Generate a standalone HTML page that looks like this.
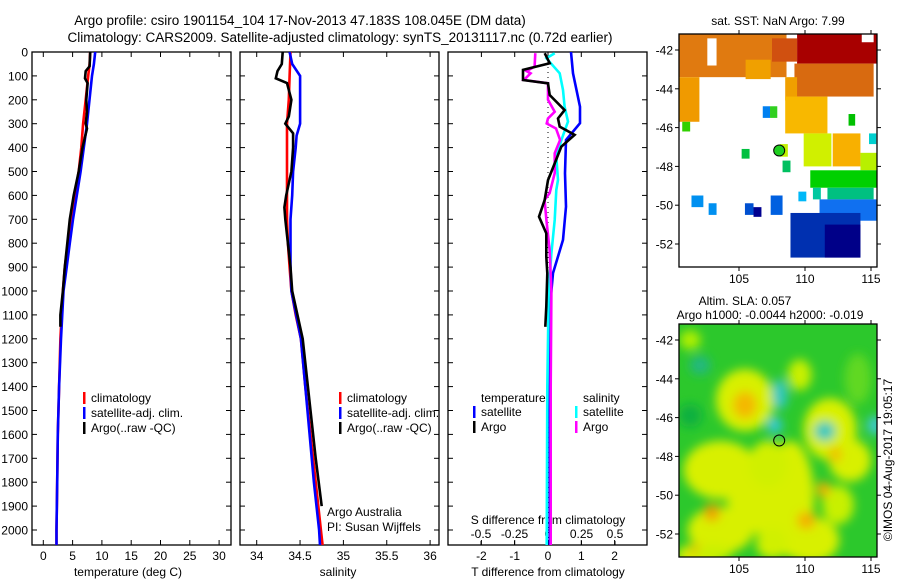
<!DOCTYPE html>
<html><head><meta charset="utf-8"><style>
html,body{margin:0;padding:0;background:#fff}
svg{display:block;font-family:"Liberation Sans",sans-serif}
</style></head><body>
<svg id="c" width="900" height="580" viewBox="0 0 900 580">
<defs>
<clipPath id="cp1"><rect x="32" y="52" width="199" height="493"/></clipPath>
<clipPath id="cp2"><rect x="240" y="52" width="199" height="493"/></clipPath>
<clipPath id="cp3"><rect x="448" y="52" width="199" height="493"/></clipPath>
<clipPath id="cpm1"><rect x="679" y="34" width="198" height="233"/></clipPath>
<clipPath id="cpm2"><rect x="679" y="324" width="198" height="233"/></clipPath>
<filter id="blur" x="-50%" y="-50%" width="200%" height="200%"><feGaussianBlur stdDeviation="5"/></filter>
</defs>
<text x="300" y="25" font-size="13.5" text-anchor="middle">Argo profile: csiro 1901154_104 17-Nov-2013 47.183S 108.045E (DM data)</text>
<text x="340" y="42" font-size="13.5" text-anchor="middle">Climatology: CARS2009. Satellite-adjusted climatology: synTS_20131117.nc (0.72d earlier)</text>
<g id="layer"></g>
</svg>
<script>
// ---- depth axis
var depthTicks=[0,100,200,300,400,500,600,700,800,900,1000,1100,1200,1300,1400,1500,1600,1700,1800,1900,2000];
// ---- temperature panel
var tempTicks=[0,5,10,15,20,25,30];
var tClimD=[0,50,100,200,300,400,500,600,700,800,900,1000,1200,1400,1600,1800,2000,2064];
var tClim=[8.0,7.9,7.66,7.23,6.8,6.48,6.04,5.4,4.75,4.2,3.67,3.34,2.91,2.7,2.48,2.37,2.26,2.26];
var tSatD=[0,50,100,200,300,400,500,600,700,800,900,1000,1200,1400,1600,1800,2000,2064];
var tSat=[8.85,8.64,8.31,7.88,7.45,6.91,6.37,5.72,5.07,4.53,3.99,3.45,3.02,2.7,2.48,2.37,2.26,2.26];
var tArgoD=[0,60,80,110,130,200,250,300,320,400,500,600,700,800,900,1000,1100,1150];
var tArgo=[8.0,7.9,7.23,7.12,7.56,7.34,7.45,7.23,7.45,6.69,6.04,5.18,4.53,4.1,3.67,3.34,2.91,2.91];
// ---- salinity panel
var salTicks=[34,34.5,35,35.5,36];
var sClimD=[0,100,200,300,400,500,600,700,800,900,1000,1100,1200,1400,1600,1800,2000,2064];
var sClim=[34.39,34.38,34.37,34.35,34.35,34.35,34.35,34.35,34.36,34.38,34.40,34.45,34.51,34.56,34.62,34.68,34.74,34.76];
var sSatD=[0,50,100,200,300,350,400,500,600,700,900,1000,1200,1400,1600,1800,2000,2064];
var sSat=[34.38,34.41,34.50,34.50,34.50,34.46,34.45,34.42,34.41,34.39,34.39,34.40,34.51,34.56,34.61,34.66,34.72,34.73];
var sArgoD=[0,50,80,110,130,200,270,300,340,400,500,600,650,700,900,1000,1200,1500,1700,1900];
var sArgo=[34.30,34.29,34.24,34.22,34.35,34.40,34.37,34.33,34.42,34.42,34.40,34.34,34.32,34.33,34.39,34.41,34.53,34.62,34.68,34.75];
// ---- difference panel
var tdTicks=[-2,-1,0,1,2];
var sdTicks=[-0.5,-0.25,0,0.25,0.5];
var sdTickLabels=["-0.5","-0.25","0","0.25","0.5"];
var tdSatD=[0,89,229,298,368,507,647,786,925,1065,1300,1600,2064];
var tdSat=[0.69,0.75,0.96,0.96,0.54,0.51,0.54,0.45,0.15,0.06,0.06,0.05,0.05];
var tdArgoD=[5,47,75,117,131,180,243,278,312,347,396,466,536,619,689,759,856,926,1065,1150];
var tdArgo=[-0.1,0.05,-0.75,-0.75,0,0.05,0.5,0.3,0.35,0.8,0.4,0.2,0,-0.1,-0.27,-0.05,-0.05,-0.02,-0.05,-0.08];
var sdArgoD=[5,61,80,89,117,131,200,250,278,299,320,368,424,507,591,619,703,828,1000,1400,2064];
var sdArgo=[-0.095,-0.1,-0.16,-0.13,-0.18,0,0,0.05,0,-0.01,0.06,0.09,0.05,0.05,0.012,-0.025,-0.012,0.012,0.025,0.02,0.02];
var sdSatD=[5,26,89,159,229,291,368,438,535,577,703,842,1000,1400,2064];
var sdSat=[0.05,-0.012,0.087,0.112,0.124,0.149,0.1,0.062,0.075,0.062,0.05,0.025,0.005,-0.005,-0.01];
// ---- SST map
var mapLonTicks=[105,110,115];
var mapLatTicks=[-42,-44,-46,-48,-50,-52];
var sstCells=[
[100.45,108.6,-41.2,-43.4,"#e07a10"],[100.45,102,-43.4,-45.7,"#f09a00"],[105.5,107.4,-42.5,-43.5,"#f0a000"],
[109.4,115.45,-41.2,-42.7,"#a80000"],[107.5,109.4,-41.4,-42.6,"#d05010"],[109.2,115.2,-42.7,-44.4,"#d86a10"],
[108.5,109.4,-43.4,-44.6,"#f0a000"],[108.5,111.7,-44.4,-46.3,"#f8b800"],[112.1,114.2,-46.3,-48,"#f8b000"],
[109.9,112,-46.3,-48,"#d0f000"],[114.2,115.45,-47.3,-48.2,"#b8f000"],[110.4,115.45,-48.2,-49.1,"#00d000"],
[111.7,115.2,-49.1,-49.7,"#00c080"],[111.1,115.45,-49.7,-50.8,"#1070f0"],[108.9,114.2,-50.4,-52.7,"#0030b0"],
[111.5,114.2,-51,-52.7,"#000088"],[106.8,107.35,-44.9,-45.5,"#0080f0"],[107.35,107.9,-44.9,-45.5,"#30d020"],
[100.7,101.3,-45.7,-46.2,"#30d000"],[105.2,105.8,-47.1,-47.6,"#00c040"],[108.3,108.9,-47.7,-48.3,"#00c060"],
[109.5,110.1,-49.3,-49.8,"#00b8f8"],[110.6,111.2,-49.1,-49.7,"#00c8a0"],[101.4,102.3,-49.5,-50.1,"#0090f0"],
[102.7,103.3,-49.9,-50.5,"#0090f0"],[105.45,106.1,-49.9,-50.5,"#0050d0"],[106.1,106.7,-50.1,-50.6,"#000090"],
[107.4,108.3,-49.5,-50.5,"#0060e0"],[114.85,115.4,-46.3,-46.85,"#00d0d0"],[113.3,113.8,-45.3,-45.9,"#00c000"],
[108.1,108.7,-46.85,-47.5,"#c0f000"]];
var sstWhite=[[102.6,103.3,-41.4,-42.8],[106.3,107.8,-43.6,-44.5],[114.3,115.2,-41.2,-41.6]];
// ---- SLA map blobs [lon,lat,rxDeg,ryDeg,color]
var slaBlobs=[
[105.45,-45.1,2.2,1.6,"#d8f000"],[108.9,-50.2,1.8,3.0,"#d8f000"],[103.6,-48.7,2.8,1.5,"#d8f000"],
[111.9,-46.6,2.0,1.6,"#d8f000"],[113.4,-48.2,1.6,1.1,"#d8f000"],[106.6,-50.2,2.5,1.8,"#d8f000"],
[103.6,-51.8,2.5,1.2,"#d8f000"],[110.4,-52.3,2.2,1.2,"#d8f000"],[102.05,-53.1,1.8,0.6,"#d8f000"],
[107.5,-52.5,1.2,0.8,"#d0f000"],[112.5,-50.5,1.2,1.0,"#c8f000"],
[101.3,-42,0.8,0.5,"#b0f000"],[109.6,-43.8,0.9,0.8,"#c8f000"],[107.2,-48.4,1.5,1.2,"#d0f000"],
[105.45,-45.35,0.9,0.7,"#f4b800"],[102.95,-50.9,0.6,0.45,"#f0a000"],[110.1,-51.3,0.7,0.45,"#f4b000"],
[111.4,-49.7,0.5,0.4,"#f4b000"],[101.8,-52.9,0.5,0.35,"#f0a800"],[112.3,-47.9,0.5,0.4,"#f0c000"],
[108.1,-44.8,0.6,0.8,"#30c8c0"],[107.7,-46.4,0.6,0.45,"#30c8d0"],[111.5,-46.7,0.8,0.5,"#30c8c0"],
[115.3,-46.4,0.6,0.5,"#40c8d0"],[102.05,-43.3,0.8,0.5,"#20b880"],[101.3,-45.9,0.9,0.6,"#10b040"],
[114.0,-44.0,1.0,1.3,"#60d820"],[103.0,-53.0,1.5,0.4,"#c8f000"]];

var svg=document.getElementById('c');
var layer=document.getElementById('layer');
var NS="http://www.w3.org/2000/svg";
function el(tag,attrs,parent){var e=document.createElementNS(NS,tag);for(var k in attrs)e.setAttribute(k,attrs[k]);(parent||layer).appendChild(e);return e;}
function txt(x,y,s,size,anchor,parent){var t=el('text',{x:x,y:y,'font-size':size,'text-anchor':anchor||'middle'},parent);t.textContent=s;return t;}
function yD(d){return 52+0.239*d;}
function xT(t){return 43.3+5.86*t;}
function xS(s){return 256.7+86.7*(s-34);}
function xTD(t){return 548+33.3*t;}
function xSD(s){return 548+134*s;}
function lonX(l){return 739+13.2*(l-105);}
function latY1(l){return 50-19.4*(l+42);}
function latY2(l){return 340-19.4*(l+42);}

function frame(x,name){var r=el('rect',{x:x,y:52,width:199,height:493,fill:'none',stroke:'#000','stroke-width':1.3});

}
function line(xs,ds,xf,color,clip,name){var pts=[];for(var i=0;i<xs.length;i++)pts.push(xf(xs[i]).toFixed(1)+','+yD(ds[i]).toFixed(1));
var p=el('polyline',{points:pts.join(' '),fill:'none',stroke:color,'stroke-width':2.6,'stroke-linejoin':'miter','clip-path':'url(#'+clip+')'});

}

var gy=el('g',{});


depthTicks.forEach(function(d){txt(28,yD(d)+4.5,String(d),12,'end',gy);
[32,240,448].forEach(function(x0){el('line',{x1:x0,x2:x0+5,y1:yD(d),y2:yD(d),stroke:'#000'},gy);el('line',{x1:x0+199,x2:x0+194,y1:yD(d),y2:yD(d),stroke:'#000'},gy);});});

frame(32,'temperature-panel');
var g1=el('g',{});


tempTicks.forEach(function(t){var x=xT(t);el('line',{x1:x,x2:x,y1:545,y2:540,stroke:'#000'},g1);el('line',{x1:x,x2:x,y1:52,y2:57,stroke:'#000'},g1);txt(x,560,String(t),12,'middle',g1);});
txt(128,576,'temperature (deg C)',12,'middle',g1);
line(tClim,tClimD,xT,'#ff0000','cp1','temp-climatology-line');
line(tSat,tSatD,xT,'#0000ff','cp1','temp-satellite-line');
line(tArgo,tArgoD,xT,'#000000','cp1','temp-argo-line');

frame(240,'salinity-panel');
var g2=el('g',{});


salTicks.forEach(function(s){var x=xS(s);el('line',{x1:x,x2:x,y1:545,y2:540,stroke:'#000'},g2);el('line',{x1:x,x2:x,y1:52,y2:57,stroke:'#000'},g2);txt(x,560,String(s),12,'middle',g2);});
txt(338,576,'salinity',12,'middle',g2);
line(sClim,sClimD,xS,'#ff0000','cp2','sal-climatology-line');
line(sSat,sSatD,xS,'#0000ff','cp2','sal-satellite-line');
line(sArgo,sArgoD,xS,'#000000','cp2','sal-argo-line');

function legend(x,y,items,name){var g=el('g',{});


items.forEach(function(it,i){var yy=y+i*15;if(it[1])el('rect',{x:x,y:yy-10,width:2.5,height:12,fill:it[1]},g);txt(x+(it[1]?8:0),yy,it[0],12,'start',g);});}
legend(83,402,[['climatology','#ff0000'],['satellite-adj. clim.','#0000ff'],['Argo(..raw -QC)','#000']],'temperature-legend');
legend(339,402,[['climatology','#ff0000'],['satellite-adj. clim.','#0000ff'],['Argo(..raw -QC)','#000']],'salinity-legend');
txt(327,516,'Argo Australia',12,'start');
txt(327,531,'PI: Susan Wijffels',12,'start');

frame(448,'difference-panel');
var g3=el('g',{});


tdTicks.forEach(function(t){var x=xTD(t);el('line',{x1:x,x2:x,y1:545,y2:540,stroke:'#000'},g3);el('line',{x1:x,x2:x,y1:52,y2:57,stroke:'#000'},g3);txt(x,560,String(t),12,'middle',g3);});
sdTicks.forEach(function(s,i){var x=xSD(s);el('line',{x1:x,x2:x,y1:545,y2:541,stroke:'#000'},g3);txt(x,538,sdTickLabels[i],12,'middle',g3);});
txt(548,524,'S difference from climatology',12,'middle',g3);
txt(548,576,'T difference from climatology',12,'middle',g3);
el('line',{x1:548,x2:548,y1:52,y2:545,stroke:'#000','stroke-dasharray':'1,4','stroke-width':1});
line(tdSat,tdSatD,xTD,'#0000ff','cp3','tdiff-satellite-line');
line(sdSat,sdSatD,xSD,'#00ffff','cp3','sdiff-satellite-line');
line(sdArgo,sdArgoD,xSD,'#ff00ff','cp3','sdiff-argo-line');
line(tdArgo,tdArgoD,xTD,'#000000','cp3','tdiff-argo-line');
legend(473,416,[['satellite','#0000ff'],['Argo','#000']],'tdiff-legend');
txt(481,402,'temperature',12,'start');
legend(575,416,[['satellite','#00ffff'],['Argo','#ff00ff']],'sdiff-legend');
txt(583,402,'salinity',12,'start');

function mapAxes(top,bottom,latY,name){var g=el('g',{});


el('rect',{x:679,y:top,width:198,height:bottom-top,fill:'none',stroke:'#000','stroke-width':1.3},g);
mapLatTicks.forEach(function(l){var y=latY(l);el('line',{x1:679,x2:675,y1:y,y2:y,stroke:'#000'},g);el('line',{x1:877,x2:881,y1:y,y2:y,stroke:'#000'},g);txt(673,y+4.5,String(l),12,'end',g);});
mapLonTicks.forEach(function(l){var x=lonX(l);el('line',{x1:x,x2:x,y1:top,y2:top-4,stroke:'#000'},g);el('line',{x1:x,x2:x,y1:bottom,y2:bottom+4,stroke:'#000'},g);txt(x,bottom+16,String(l),12,'middle',g);});}

var m1=el('g',{'clip-path':'url(#cpm1)'});


sstCells.forEach(function(c){var x0=lonX(c[0]),x1=lonX(c[1]),y0=latY1(c[2]),y1=latY1(c[3]);
var r=el('rect',{x:x0,y:y0,width:x1-x0,height:y1-y0,fill:c[4]},m1);

});
sstWhite.forEach(function(c){var x0=lonX(c[0]),x1=lonX(c[1]),y0=latY1(c[2]),y1=latY1(c[3]);el('rect',{x:x0,y:y0,width:x1-x0,height:y1-y0,fill:'#fff'},m1);});
var mk1=el('circle',{cx:lonX(108.045),cy:latY1(-47.183),r:5.5,fill:'#20d020',stroke:'#000','stroke-width':1});


mapAxes(34,267,latY1,'sst-map-axes');
txt(778,25,'sat. SST: NaN Argo: 7.99',12,'middle');

var m2=el('g',{'clip-path':'url(#cpm2)'});


el('rect',{x:679,y:324,width:198,height:233,fill:'#2cc82c'},m2);
var bg=el('g',{filter:'url(#blur)'},m2);
slaBlobs.forEach(function(b){var e=el('ellipse',{cx:lonX(b[0]),cy:latY2(b[1]),rx:b[2]*13.2,ry:b[3]*19.4,fill:b[4]},bg);

});
var mk2=el('circle',{cx:lonX(108.045),cy:latY2(-47.183),r:5.5,fill:'none',stroke:'#000','stroke-width':1});


mapAxes(324,557,latY2,'sla-map-axes');
txt(745,305,'Altim. SLA: 0.057',12,'middle');
txt(770,319,'Argo h1000: -0.0044 h2000: -0.019',12,'middle');
var rt=txt(0,0,'©IMOS 04-Aug-2017 19:05:17',12,'middle');
rt.setAttribute('transform','translate(892,460) rotate(-90)');


</script>
</body></html>
